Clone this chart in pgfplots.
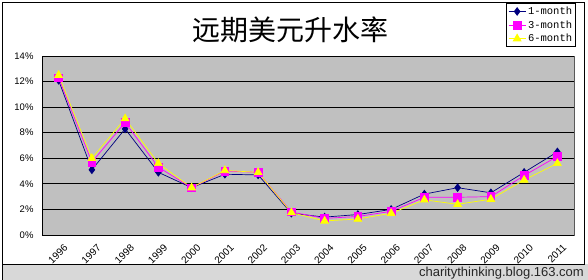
\documentclass[border=0pt]{standalone}
\usepackage{pgfplots}
\pgfplotsset{compat=1.18}
\usepackage{pgfplotstable}
\usepackage{fontspec}
\setmainfont{Liberation Sans}
\newfontfamily\cjk{Noto Sans CJK SC}
\newfontfamily\monof{Liberation Mono}
\definecolor{navyc}{HTML}{000080}
\definecolor{magc}{HTML}{FF00FF}
\definecolor{yelc}{HTML}{FFFF00}
\definecolor{plotbg}{HTML}{C0C0C0}
\definecolor{bandc}{HTML}{D8D8D8}
\pgfplotstableread{
x m1 m3 m6
0 12.1 12.3 12.5
1 5.1 5.7 6.0
2 8.3 8.8 9.1
3 4.9 5.3 5.6
4 3.7 3.7 3.7
5 4.75 5.0 5.05
6 4.7 4.9 4.9
7 1.7 1.8 1.75
8 1.4 1.3 1.1
9 1.6 1.45 1.25
10 2.0 1.85 1.7
11 3.2 2.95 2.75
12 3.7 2.95 2.4
13 3.3 3.0 2.8
14 4.9 4.65 4.3
15 6.5 6.15 5.6
}\datatable
\begin{document}
\begin{tikzpicture}
\path[use as bounding box, fill=white] (0,0) rectangle (588pt,280pt);
\fill[bandc] (2pt,0) rectangle (588pt,16pt);
\draw[line width=0.8pt] (2.5pt,16pt) rectangle (584pt,278pt);
\draw[line width=0.8pt] (2.5pt,0) -- (2.5pt,16pt);
\node[font=\fontsize{13}{13}\selectfont, text=black!85, anchor=base east, inner sep=0pt] at (584pt,3.5pt) {charitythinking.blog.163.com};
\node[font=\cjk\fontsize{28}{28}\selectfont, inner sep=0pt] at (290pt,250pt) {远期美元升水率};
\begin{axis}[
  at={(42pt,45pt)}, anchor=south west,
  scale only axis, width=532pt, height=179pt,
  xmin=-0.5, xmax=15.5, ymin=0, ymax=14,
  axis background/.style={fill=plotbg, draw=gray!70!black},
  axis x line*=bottom, axis y line*=left,
  axis line style={black, line width=0.9pt},
  xtick={0,...,15},
  xticklabels={1996,1997,1998,1999,2000,2001,2002,2003,2004,2005,2006,2007,2008,2009,2010,2011},
  x tick style={draw=none},
  extra x ticks={0.5,1.5,...,14.5},
  extra x tick labels={},
  extra x tick style={grid=none, major tick length=4pt, tick style={draw=black, line width=0.7pt}, tick align=outside},
  xticklabel style={font=\fontsize{10}{10}\selectfont, xshift=8pt, yshift=-10pt, rotate=45, anchor=east, inner sep=1pt},
  ytick={0,2,...,14},
  yticklabels={0\%,2\%,4\%,6\%,8\%,10\%,12\%,14\%},
  y tick style={draw=none},
  yticklabel style={font=\fontsize{9.5}{9.5}\selectfont, xshift=-5pt},
  ymajorgrids, major grid style={black, line width=0.9pt},
  legend style={at={(1.0038,1.296)}, anchor=north east, draw=black, line width=0.8pt,
    fill=white, font=\monof\fontsize{10.5}{10.5}\selectfont, row sep=0.5pt,
    inner sep=1.5pt, cells={anchor=west}},
  legend image post style={line width=0.7pt},
]
\addplot[navyc, line width=0.7pt, mark=diamond*, mark size=3.8pt] table[x=x,y=m1] {\datatable};
\addlegendentry{1-month}
\addplot[magc, line width=0.7pt, mark=square*, mark size=3.8pt] table[x=x,y=m3] {\datatable};
\addlegendentry{3-month}
\addplot[yelc, line width=0.7pt, mark=triangle*, mark size=4.5pt] table[x=x,y=m6] {\datatable};
\addlegendentry{6-month}
\end{axis}
\end{tikzpicture}
\end{document}
